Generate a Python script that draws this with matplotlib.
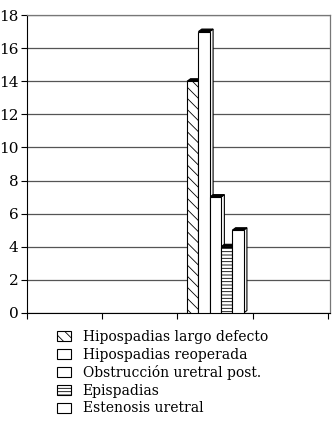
import matplotlib.pyplot as plt
from matplotlib.patches import Patch, Polygon

# series (4 categories, only the third one has data)
series = ['Hipospadias largo defecto', 'Hipospadias reoperada',
          'Obstrucción uretral post.', 'Epispadias', 'Estenosis uretral']
values = [14, 17, 7, 4, 5]
hatches = ['\\\\\\', '', '', '-----', '']
yticks = [0, 2, 4, 6, 8, 10, 12, 14, 16, 18]

plt.rcParams['font.family'] = 'DejaVu Serif'
plt.rcParams['hatch.linewidth'] = 0.6

fig = plt.figure(figsize=(3.33, 4.28), dpi=100)
ax = fig.add_axes([27 / 333, 115 / 428, 303 / 333, 298 / 428])

w = 0.15
dx, dy = 0.045, 0.15
handles = []
for i, (name, v, h) in enumerate(zip(series, values, hatches)):
    x0 = 2.13 + i * w
    x1 = x0 + w
    # side face and top face for the 3d look
    ax.add_patch(Polygon([(x1, 0), (x1 + dx, dy), (x1 + dx, v + dy), (x1, v)],
                         facecolor='white', edgecolor='black', lw=0.8, zorder=3))
    ax.add_patch(Polygon([(x0, v), (x1, v), (x1 + dx, v + dy), (x0 + dx, v + dy)],
                         facecolor='black', edgecolor='black', lw=0.8, zorder=3))
    ax.bar(x0, v, width=w, align='edge', facecolor='white', edgecolor='black',
           hatch=h, lw=0.8, zorder=4)
    handles.append(Patch(facecolor='white', edgecolor='black', hatch=h, lw=0.8, label=name))

ax.set_xlim(0, 4.03)
ax.set_ylim(0, 18)
ax.set_yticks(yticks)
ax.set_xticks([0, 1, 2, 3, 4])
ax.set_xticklabels([])
ax.yaxis.grid(True, color='#555555', lw=0.9)
ax.set_axisbelow(True)
ax.tick_params(axis='both', direction='out', length=4, width=0.8, labelsize=11, pad=2)
for s in ['top', 'right']:
    ax.spines[s].set_color('#777777')
    ax.spines[s].set_linewidth(0.9)

fig.legend(handles=handles, loc='upper left', bbox_to_anchor=(57 / 333, 1 - 330 / 428),
           frameon=False, fontsize=10, handlelength=1.0, handleheight=0.75,
           handletextpad=0.85, labelspacing=0.26, borderpad=0, borderaxespad=0)

fig.savefig('out.png', dpi=100)
